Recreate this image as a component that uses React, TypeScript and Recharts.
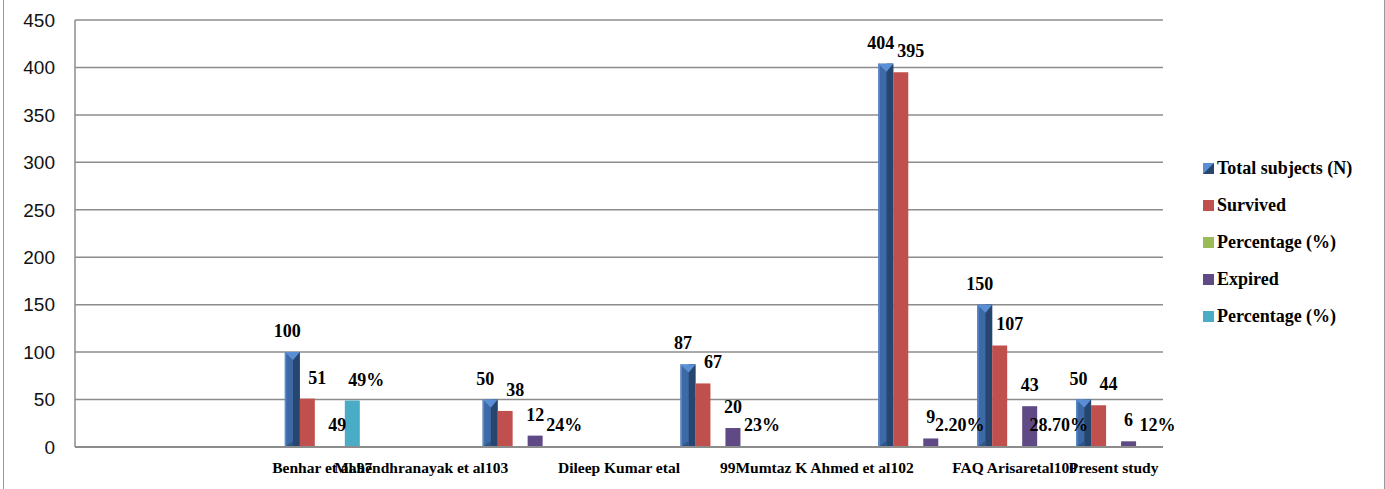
import { Bar, BarChart, CartesianGrid, LabelList, XAxis, YAxis } from "recharts";

const categories = [
  "",
  "",
  "Benhar et al.97",
  "Mahendhranayak et al103",
  "",
  "Dileep Kumar etal",
  "",
  "99Mumtaz K Ahmed et al102",
  "",
  "FAQ Arisaretal100",
  "Present study",
];

const totalSubjects = [null, null, 100, null, 50, null, 87, null, 404, 150, 50];
const survived = [null, null, 51, null, 38, null, 67, null, 395, 107, 44];
const percentageA = [null, null, null, null, null, null, null, null, null, null, null];
const expired = [null, null, 0, null, 12, null, 20, null, 9, 43, 6];
const percentageB = [null, null, 49, null, 0, null, 0, null, 0, 0, 0];

const expiredLabels = ["", "", "49", "", "12", "", "20", "", "9", "43", "6"];
const percentLabels = ["", "", "49%", "", "24%", "", "23%", "", "2.20%", "28.70%", "12%"];

const yTicks = [0, 50, 100, 150, 200, 250, 300, 350, 400, 450];

const data = categories.map((name, i) => ({
  name,
  total: totalSubjects[i],
  survived: survived[i],
  pctA: percentageA[i],
  expired: expired[i],
  pctB: percentageB[i],
  totalLabel: totalSubjects[i] == null ? "" : String(totalSubjects[i]),
  survivedLabel: survived[i] == null ? "" : String(survived[i]),
  expiredLabel: expiredLabels[i],
  pctLabel: percentLabels[i],
}));

const SERIF = "'Liberation Serif', 'Times New Roman', serif";
const SANS = "'Liberation Sans', Arial, sans-serif";
const GRID = "#8c8c8c";

const COLORS: Record<string, string> = {
  total: "#3d6aa7",
  survived: "#c0504d",
  pctA: "#9bbb59",
  expired: "#604a85",
  pctB: "#4bacc6",
};

function BoxBar(props: any) {
  const { x, y, width, height } = props;
  if (!height || height <= 0) return null;
  const split = x + width * 0.55;
  return (
    <g>
      <rect x={x} y={y} width={width} height={height} fill="#3d6aa7" />
      <rect x={split} y={y} width={x + width - split} height={height} fill="#27466f" />
      <rect x={x} y={y} width={1.5} height={height} fill="#5d8bc9" />
      <polygon points={`${x},${y} ${x + width},${y} ${split},${y + 8}`} fill="#5b8fd5" />
      <polygon
        points={`${x},${y + height} ${split},${y + height - 6} ${split},${y + height}`}
        fill="#2f5587"
      />
    </g>
  );
}

// flat bar that draws nothing for a zero value (the 1px min size only keeps its label)
function FlatBar(props: any) {
  const { x, y, width, height, fill, value } = props;
  const v = Array.isArray(value) ? value[1] - value[0] : value;
  if (!v || !height || height <= 0) return null;
  return <rect x={x} y={y} width={width} height={height} fill={fill} />;
}

function makeLabel(dx: number) {
  return (props: any) => {
    const vb = props.viewBox ?? props;
    const { x, y, width } = vb;
    const text = props.value;
    if (text == null || text === "" || x == null) return null;
    return (
      <text
        x={x + width / 2 + dx}
        y={y - 21}
        textAnchor="middle"
        dominantBaseline="central"
        fontFamily={SERIF}
        fontWeight="bold"
        fontSize={18}
        fill="#000"
      >
        {text}
      </text>
    );
  };
}

function CategoryTick(props: any) {
  const { x, payload } = props;
  return (
    <text
      x={x}
      y={467}
      textAnchor="middle"
      dominantBaseline="central"
      fontFamily={SERIF}
      fontWeight="bold"
      fontSize={15.5}
      fill="#000"
    >
      {payload.value}
    </text>
  );
}

const legendItems = [
  { key: "total", label: "Total subjects (N)" },
  { key: "survived", label: "Survived" },
  { key: "pctA", label: "Percentage (%)" },
  { key: "expired", label: "Expired" },
  { key: "pctB", label: "Percentage (%)" },
];

function LegendBox() {
  return (
    <div style={{ position: "absolute", left: 1203, top: 150 }}>
      {legendItems.map((it) => (
        <div
          key={it.key}
          style={{
            height: 37,
            display: "flex",
            alignItems: "center",
            fontFamily: SERIF,
            fontWeight: "bold",
            fontSize: 18,
            color: "#000",
            whiteSpace: "nowrap",
          }}
        >
          <svg width={11} height={11} style={{ marginRight: 3 }}>
            {it.key === "total" ? (
              <>
                <rect x={0} y={0} width={11} height={11} fill="#27466f" />
                <polygon points="0,0 11,0 0,11" fill="#5b8fd5" />
              </>
            ) : (
              <rect x={0} y={0} width={11} height={11} fill={COLORS[it.key]} />
            )}
          </svg>
          {it.label}
        </div>
      ))}
    </div>
  );
}

export default function App() {
  return (
    <div style={{ position: "absolute", left: 0, top: 0, width: 1385, height: 489, background: "#fff" }}>
      <div
        style={{
          position: "absolute",
          left: 3,
          top: 0,
          width: 1382,
          height: 489,
          boxSizing: "border-box",
          borderLeft: "1.5px solid #999",
          borderRight: "1.5px solid #999",
        }}
      />
      <BarChart
        width={1385}
        height={489}
        data={data}
        margin={{ top: 20, right: 222, bottom: 0, left: 0 }}
        barSize={15}
        barGap={0}
      >
        <CartesianGrid vertical={false} stroke={GRID} strokeWidth={1.5} />
        <XAxis
          dataKey="name"
          interval={0}
          height={42}
          tickLine={false}
          axisLine={{ stroke: GRID, strokeWidth: 2 }}
          tick={<CategoryTick />}
        />
        <YAxis
          width={75}
          domain={[0, 450]}
          ticks={yTicks}
          interval={0}
          tickLine={false}
          tickMargin={14}
          axisLine={{ stroke: GRID, strokeWidth: 1.5 }}
          tick={{ fontFamily: SANS, fontSize: 19, fill: "#111" }}
        />
        <Bar dataKey="total" name="Total subjects (N)" fill={COLORS.total} shape={<BoxBar />} isAnimationActive={false}>
          <LabelList dataKey="totalLabel" content={makeLabel(-5)} />
        </Bar>
        <Bar dataKey="survived" name="Survived" fill={COLORS.survived} isAnimationActive={false}>
          <LabelList dataKey="survivedLabel" content={makeLabel(10)} />
        </Bar>
        <Bar dataKey="pctA" name="Percentage (%)" fill={COLORS.pctA} isAnimationActive={false} />
        <Bar
          dataKey="expired"
          name="Expired"
          fill={COLORS.expired}
          minPointSize={1}
          shape={<FlatBar />}
          isAnimationActive={false}
        >
          <LabelList dataKey="expiredLabel" content={makeLabel(0)} />
        </Bar>
        <Bar
          dataKey="pctB"
          name="Percentage (%)"
          fill={COLORS.pctB}
          minPointSize={1}
          shape={<FlatBar />}
          isAnimationActive={false}
        >
          <LabelList dataKey="pctLabel" content={makeLabel(14)} />
        </Bar>
      </BarChart>
      <LegendBox />
    </div>
  );
}
